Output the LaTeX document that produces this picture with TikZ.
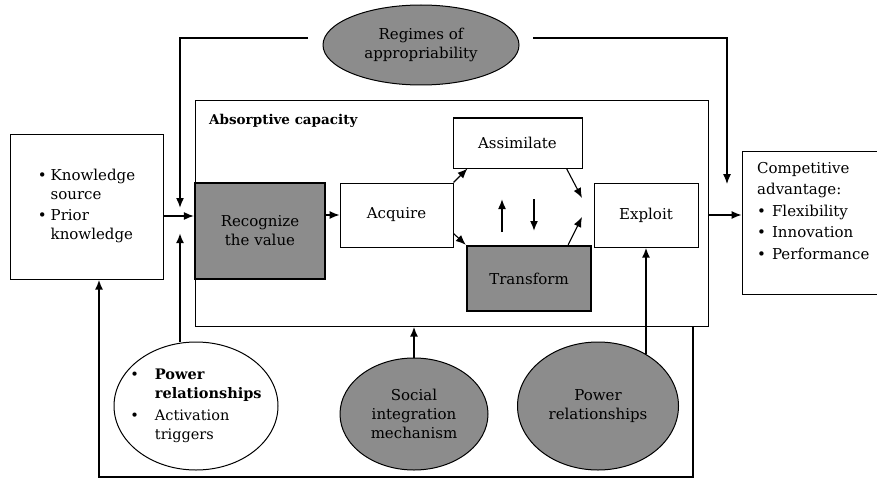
\documentclass[tikz,border=0pt]{standalone}
\usepackage{fontspec}
\setmainfont{DejaVu Serif}
\usetikzlibrary{arrows.meta,shapes.geometric,calc}
\definecolor{boxgray}{RGB}{140,140,140}
\begin{document}
\begin{tikzpicture}[x=1pt,y=-1pt,
  every node/.style={font=\fontsize{15}{19}\selectfont, inner sep=0pt},
  plainbox/.style={draw, line width=1pt, fill=white},
  darkbox/.style={draw, line width=2.4pt, fill=boxgray},
  grayoval/.style={ellipse, draw, line width=1pt, fill=boxgray},
  whiteoval/.style={ellipse, draw, line width=1pt, fill=white},
  wire/.style={line width=1.1pt},
  midwire/.style={line width=1.6pt},
  heavywire/.style={line width=2.3pt},
  arrowed/.style={-{Latex[length=10pt,width=8pt]}}]
\useasboundingbox (0,0) rectangle (877,484);
\clip (0,0) rectangle (877,484);
% absorptive capacity frame
\node[plainbox, minimum width=513pt, minimum height=225pt] (ac) at (451.5,213.5) {};
\node[anchor=north west, font=\fontsize{13.5}{16}\selectfont\bfseries] (actitle) at (209,114) {Absorptive capacity};
% boxes
\node[plainbox, minimum width=153pt, minimum height=145pt] (src) at (86.5,206.5)
  {\begin{tabular}{@{}l@{\hspace{4pt}}l@{}}\textbullet & Knowledge\\ & source\\[2pt] \textbullet & Prior\\ & knowledge\end{tabular}};
\node[darkbox, minimum width=130pt, minimum height=96pt, align=center] (rec) at (260,231) {Recognize\\the value};
\node[plainbox, minimum width=113pt, minimum height=64pt] (acq) at (396.5,215) {Acquire};
\node[plainbox, minimum width=129pt, minimum height=50pt] (assim) at (517.5,143) {Assimilate};
\node[darkbox, minimum width=124pt, minimum height=65pt] (trans) at (529,278.5) {Transform};
\node[plainbox, minimum width=104pt, minimum height=64pt] (expl) at (646,215) {Exploit};
\node[plainbox, minimum width=143pt, minimum height=143pt] (ca) at (813.5,222.5) {};
\node[anchor=north west, align=left, font=\fontsize{15}{21.5}\selectfont] (catxt) at (757,162)
  {Competitive\\advantage:\\\textbullet\hspace{6pt}Flexibility\\\textbullet\hspace{6pt}Innovation\\\textbullet\hspace{6pt}Performance};
% ovals
\node[grayoval, minimum width=196pt, minimum height=80pt, align=center] (reg) at (421,45) {Regimes of\\appropriability};
\node[whiteoval, minimum width=164pt, minimum height=128pt, font=\fontsize{14.5}{19}\selectfont] (pw) at (196,406)
  {\makebox[100pt][c]{\begin{tabular}{@{}l@{\hspace{16pt}}l@{}}\textbullet & \bfseries Power\\ & \bfseries relationships\\[3pt] \textbullet & Activation\\ & triggers\end{tabular}}};
\node[grayoval, minimum width=148pt, minimum height=112pt, align=center] (soc) at (414,414) {Social\\integration\\mechanism};
\node[grayoval, minimum width=161pt, minimum height=128pt, align=center] (pg) at (598,406) {Power\\relationships};
% coordinates
\coordinate (tl) at (308,38);
\coordinate (tlc) at (180,38);
\coordinate (jtop) at (180,208);
\coordinate (jmid) at (180,216);
\coordinate (jbot) at (180,233);
\coordinate (tr) at (533,38);
\coordinate (trc) at (727,38);
\coordinate (trend) at (727,184);
\coordinate (ia) at (582,198);
\coordinate (ib) at (582,217);
\coordinate (upa) at (502,232);
\coordinate (upb) at (502,199);
\coordinate (dna) at (534,199);
\coordinate (dnb) at (534,231);
\coordinate (fbr) at (693,477);
\coordinate (fbl) at (99,477);
% connectors
\draw[midwire, arrowed] (tl) -- (tlc) -- (jtop);
\draw[wire, arrowed] (tr) -- (trc) -- (trend);
\draw[wire, arrowed] (src.east |- jmid) -- (rec.west |- jmid);
\draw[heavywire, arrowed] (pw.north -| jbot) -- (jbot);
\draw[wire, arrowed] (rec.east |- acq.west) -- (acq.west);
\draw[wire, arrowed] (acq.north east) -- ($(assim.south west)+(15,0)$);
\draw[wire, arrowed] ($(acq.south east)+(0,-14)$) -- (trans.north west);
\draw[wire, arrowed] ($(assim.south east)+(-16,0)$) -- (ia);
\draw[wire, arrowed] ($(trans.north east)+(-24,0)$) -- (ib);
\draw[midwire, arrowed] (upa) -- (upb);
\draw[midwire, arrowed] (dna) -- (dnb);
\draw[wire, arrowed] (ac.east |- expl.east) -- (ca.west |- expl.east);
\draw[heavywire, arrowed] (soc.north) -- (soc.north |- ac.south);
\draw[heavywire, arrowed] (expl.south |- pg.48) -- (expl.south);
\draw[heavywire, arrowed] (fbr |- ac.south) -- (fbr) -- (fbl) -- (fbl |- src.south);
\end{tikzpicture}
\end{document}
